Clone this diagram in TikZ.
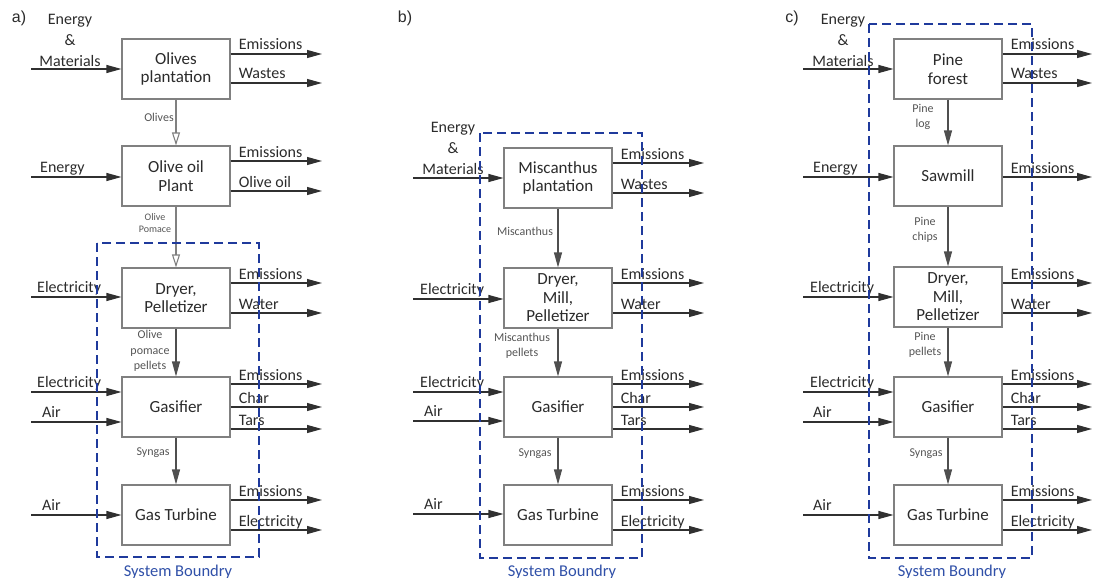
\documentclass[tikz,border=0pt]{standalone}
\usepackage{fontspec}
\setmainfont{Carlito}
\newfontfamily\arialfont{Liberation Sans}
\usetikzlibrary{arrows.meta}
\definecolor{txt}{HTML}{2B2B2B}
\definecolor{boxc}{HTML}{808080}
\definecolor{arr}{HTML}{303030}
\definecolor{bnd}{HTML}{1F3A9C}
\definecolor{bndtxt}{HTML}{3050A8}
\definecolor{smallc}{HTML}{555555}
\newcommand\inflow[6]{%
  \coordinate (#2) at (#3,#4);
  \draw[flow] (#2) -- (#1.west |- #2);
  \path (#2) node[lab, anchor=base west, xshift=#6, yshift=5pt] (#2t) {#5};}
\newcommand\outflow[5]{%
  \coordinate (#2) at (#3,#4);
  \draw[flow] (#1.east |- #2) -- (#2);
  \path (#1.east |- #2) node[lab, anchor=base west, xshift=8pt, yshift=4pt] (#2t) {#5};}
\newcommand\emflow[6]{%
  \coordinate (#2) at (#3,#4);
  \draw[flow] (#2) -- (#1.west |- #2);
  \node[lab, align=center, inner sep=0pt] (#2t) at (#5,#6) {Energy\\\&\\Materials};}
\begin{document}
\begin{tikzpicture}[x=1pt,y=-1pt,
  box/.style={draw=boxc, line width=1.1pt, fill=white, minimum width=108pt,
    minimum height=60pt, inner sep=0pt, align=center, text=txt,
    font=\fontsize{17}{18.5}\selectfont},
  lab/.style={text=txt, inner sep=0pt, font=\fontsize{16}{21}\selectfont},
  smalllab/.style={text=smallc, inner sep=0pt, align=center,
    font=\fontsize{12}{15.5}\selectfont},
  flow/.style={draw=arr, line width=1.1pt, -{Triangle[length=15pt,width=8pt]}},
  downflow/.style={draw=arr!85, line width=1.1pt, -{Triangle[length=15pt,width=8pt]}},
  openflow/.style={draw=boxc, line width=1.1pt, -{Triangle[open,length=13pt,width=8pt]}},
  boundary/.style={draw=bnd, line width=2.5pt, dash pattern=on 9pt off 5pt},
  bndlab/.style={text=bndtxt, inner sep=0pt, font=\fontsize{16.5}{19}\selectfont},
  panel/.style={inner sep=0pt, font=\arialfont\fontsize{16}{19}\selectfont, text=txt}]
\useasboundingbox (0,0) rectangle (1093,578);

% ---------- panel a ----------
\node[panel] (pa) at (19,18) {a)};
\node[box] (a1) at (176,69) {Olives\\plantation};
\node[box] (a2) at (176,176) {Olive oil\\Plant};
\node[box] (a3) at (176,298) {Dryer,\\Pelletizer};
\node[box] (a4) at (176,407) {Gasifier};
\node[box] (a5) at (176,515) {Gas Turbine};

\emflow{a1}{ai1}{31}{69}{70}{40}
\inflow{a2}{ai2}{31}{177}{Energy}{9pt}
\inflow{a3}{ai3}{31}{297}{Electricity}{6pt}
\inflow{a4}{ai4}{31}{392}{Electricity}{6pt}
\inflow{a4}{ai5}{31}{422}{Air}{11pt}
\inflow{a5}{ai6}{31}{515}{Air}{11pt}

\outflow{a1}{ao1}{322}{54}{Emissions}
\outflow{a1}{ao2}{322}{83}{Wastes}
\outflow{a2}{ao3}{322}{161}{Emissions}
\outflow{a2}{ao4}{322}{191}{Olive oil}
\outflow{a3}{ao5}{322}{283}{Emissions}
\outflow{a3}{ao6}{322}{313}{Water}
\outflow{a4}{ao7}{322}{384}{Emissions}
\outflow{a4}{ao8}{322}{407}{Char}
\outflow{a4}{ao9}{322}{429}{Tars}
\outflow{a5}{ao10}{322}{500}{Emissions}
\outflow{a5}{ao11}{322}{530}{Electricity}

\draw[openflow] (a1) -- (a2);
\draw[openflow] (a2) -- (a3);
\draw[downflow] (a3) -- (a4);
\draw[downflow] (a4) -- (a5);
\node[smalllab] (al1) at (159,117) {Olives};
\node[smalllab, font=\fontsize{10}{12}\selectfont] (al2) at (155,223) {Olive\\Pomace};
\node[smalllab] (al3) at (150,351) {Olive\\pomace\\pellets};
\node[smalllab] (al4) at (153,453) {Syngas};

\draw[boundary] (97,243) rectangle (259,557);
\node[bndlab, anchor=base] (ab) at (178,576) {System Boundry};

% ---------- panel b ----------
\node[panel] (pb) at (405,18) {b)};
\node[box] (b1) at (558,178) {Miscanthus\\plantation};
\node[box] (b2) at (558,298) {Dryer,\\Mill,\\Pelletizer};
\node[box] (b3) at (558,407) {Gasifier};
\node[box] (b4) at (558,515) {Gas Turbine};

\emflow{b1}{bi1}{413}{178}{453}{148}
\inflow{b2}{bi2}{413}{299}{Electricity}{7pt}
\inflow{b3}{bi3}{413}{392}{Electricity}{7pt}
\inflow{b3}{bi4}{413}{421}{Air}{11pt}
\inflow{b4}{bi5}{413}{514}{Air}{11pt}

\outflow{b1}{bo1}{704}{163}{Emissions}
\outflow{b1}{bo2}{704}{193}{Wastes}
\outflow{b2}{bo3}{704}{283}{Emissions}
\outflow{b2}{bo4}{704}{313}{Water}
\outflow{b3}{bo5}{704}{384}{Emissions}
\outflow{b3}{bo6}{704}{407}{Char}
\outflow{b3}{bo7}{704}{429}{Tars}
\outflow{b4}{bo8}{704}{500}{Emissions}
\outflow{b4}{bo9}{704}{530}{Electricity}

\draw[downflow] (b1) -- (b2);
\draw[downflow] (b2) -- (b3);
\draw[downflow] (b3) -- (b4);
\node[smalllab] (bl1) at (525,231) {Miscanthus};
\node[smalllab] (bl2) at (522,346) {Miscanthus\\pellets};
\node[smalllab] (bl3) at (535,454) {Syngas};

\draw[boundary] (480,133) rectangle (642,558);
\node[bndlab, anchor=base] (bb) at (562,576) {System Boundry};

% ---------- panel c ----------
\node[panel] (pc) at (792,18) {c)};
\node[box] (c1) at (948,69) {Pine\\forest};
\node[box] (c2) at (948,176) {Sawmill};
\node[box] (c3) at (948,297) {Dryer,\\Mill,\\Pelletizer};
\node[box] (c4) at (948,407) {Gasifier};
\node[box] (c5) at (948,515) {Gas Turbine};

\emflow{c1}{ci1}{803}{69}{843}{40}
\inflow{c2}{ci2}{803}{177}{Energy}{10pt}
\inflow{c3}{ci3}{803}{297}{Electricity}{7pt}
\inflow{c4}{ci4}{803}{392}{Electricity}{7pt}
\inflow{c4}{ci5}{803}{422}{Air}{10pt}
\inflow{c5}{ci6}{803}{515}{Air}{10pt}

\outflow{c1}{co1}{1092}{54}{Emissions}
\outflow{c1}{co2}{1092}{83}{Wastes}
\outflow{c2}{co3}{1092}{177}{Emissions}
\outflow{c3}{co4}{1092}{283}{Emissions}
\outflow{c3}{co5}{1092}{313}{Water}
\outflow{c4}{co6}{1092}{384}{Emissions}
\outflow{c4}{co7}{1092}{407}{Char}
\outflow{c4}{co8}{1092}{429}{Tars}
\outflow{c5}{co9}{1092}{500}{Emissions}
\outflow{c5}{co10}{1092}{530}{Electricity}

\draw[downflow] (c1) -- (c2);
\draw[downflow] (c2) -- (c3);
\draw[downflow] (c3) -- (c4);
\draw[downflow] (c4) -- (c5);
\node[smalllab] (cl1) at (923,117) {Pine\\log};
\node[smalllab] (cl2) at (925,230) {Pine\\chips};
\node[smalllab] (cl3) at (925,345) {Pine\\pellets};
\node[smalllab] (cl4) at (926,454) {Syngas};

\draw[boundary] (869,24) rectangle (1032,558);
\node[bndlab, anchor=base] (cb) at (952,576) {System Boundry};
\end{tikzpicture}
\end{document}
